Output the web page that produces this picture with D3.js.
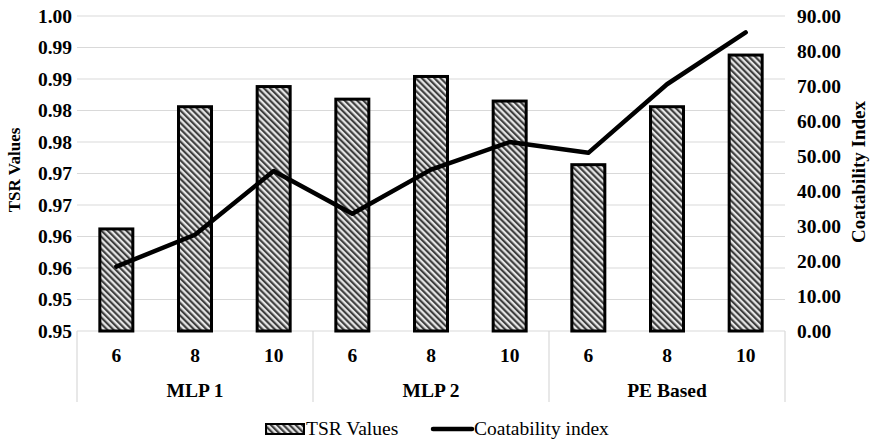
<!DOCTYPE html>
<html><head><meta charset="utf-8">
<script src="https://cdn.jsdelivr.net/npm/d3@7"></script>
<style>body{margin:0;background:#fff;} svg{display:block;} svg text{font-family:"Liberation Serif","Times New Roman",Tinos,"DejaVu Serif",serif !important;}</style>
</head><body>
<svg id="chart" width="874" height="440"></svg>
<script>
const groups = ["MLP 1", "MLP 2", "PE Based"];
const subLabels = ["6", "8", "10"];
const tsrValues = [0.9662, 0.9856, 0.9888, 0.9868, 0.9904, 0.9865, 0.9764, 0.9856, 0.9938];
const coatValues = [18.4, 27.5, 45.7, 33.5, 46.1, 54.0, 50.9, 70.5, 85.3];
const leftTicks = [0.95, 0.955, 0.96, 0.965, 0.97, 0.975, 0.98, 0.985, 0.99, 0.995, 1.0];
const rightTicks = [0, 10, 20, 30, 40, 50, 60, 70, 80, 90];
const seriesNames = ["TSR Values", "Coatability index"];

const svg = d3.select("#chart");
const L = 77, R = 785, T = 16, B = 331;
const font = "Liberation Serif, Times New Roman, DejaVu Serif, serif";

const cats = [];
groups.forEach((g, gi) => subLabels.forEach((s, si) => cats.push({g, s, key: gi + "-" + si})));

const x = d3.scaleBand().domain(cats.map(d => d.key)).range([L, R]).paddingInner(0).paddingOuter(0);
const yL = d3.scaleLinear().domain([0.95, 1.0]).range([B, T]);
const yR = d3.scaleLinear().domain([0, 90]).range([B, T]);

const defs = svg.append("defs");
const pat = defs.append("pattern").attr("id", "hatch").attr("patternUnits", "userSpaceOnUse")
  .attr("width", 4.4).attr("height", 4.4).attr("patternTransform", "rotate(-45)");
pat.append("rect").attr("width", 4.4).attr("height", 4.4).attr("fill", "#e6e6e6");
pat.append("line").attr("x1", 1.1).attr("y1", 0).attr("x2", 1.1).attr("y2", 4.4)
  .attr("stroke", "#3a3a3a").attr("stroke-width", 2.1);

// gridlines
svg.append("g").selectAll("line").data(leftTicks).join("line")
  .attr("x1", L).attr("x2", R).attr("y1", d => yL(d)).attr("y2", d => yL(d))
  .attr("stroke", "#d9d9d9").attr("stroke-width", 1.2);

// left axis
const leftAxis = d3.axisLeft(yL).tickValues(leftTicks).tickFormat(d3.format(".2f")).tickSize(0).tickPadding(5);
const gl = svg.append("g").attr("transform", `translate(${L},0)`).call(leftAxis);
gl.attr("font-family", null).attr("font-size", null);
gl.select(".domain").remove();
gl.selectAll("text").attr("font-weight", "bold").attr("font-size", "19.5px").attr("fill", "#000");

// right axis
const rightAxis = d3.axisRight(yR).tickValues(rightTicks).tickFormat(d3.format(".2f")).tickSize(0).tickPadding(12);
const gr = svg.append("g").attr("transform", `translate(${R},0)`).call(rightAxis);
gr.attr("font-family", null).attr("font-size", null);
gr.select(".domain").remove();
gr.selectAll("text").attr("font-weight", "bold").attr("font-size", "19.5px").attr("fill", "#000");

// category axis separators
const sepXs = [L].concat(groups.map((g, gi) => x(gi + "-2") + x.bandwidth()));
svg.append("g").selectAll("line").data(sepXs).join("line")
  .attr("x1", d => d).attr("x2", d => d).attr("y1", B).attr("y2", 402)
  .attr("stroke", "#d9d9d9").attr("stroke-width", 1.2);

// bars
const bw = 33;
svg.append("g").selectAll("rect").data(cats).join("rect")
  .attr("x", d => x(d.key) + x.bandwidth() / 2 - bw / 2)
  .attr("width", bw)
  .attr("y", (d, i) => yL(tsrValues[i]))
  .attr("height", (d, i) => B - yL(tsrValues[i]))
  .attr("fill", "url(#hatch)").attr("stroke", "#000").attr("stroke-width", 3);

// line
const line = d3.line().x((d, i) => x(cats[i].key) + x.bandwidth() / 2).y(d => yR(d));
svg.append("path").datum(coatValues).attr("d", line)
  .attr("fill", "none").attr("stroke", "#000").attr("stroke-width", 4.5)
  .attr("stroke-linejoin", "round").attr("stroke-linecap", "round");

// category labels
svg.append("g").selectAll("text").data(cats).join("text")
  .attr("x", d => x(d.key) + x.bandwidth() / 2).attr("y", 362)
  .attr("text-anchor", "middle").attr("font-weight", "bold").attr("font-size", "19.5px")
  .text(d => d.s);
svg.append("g").selectAll("text").data(groups).join("text")
  .attr("x", (g, gi) => x(gi + "-1") + x.bandwidth() / 2).attr("y", 397)
  .attr("text-anchor", "middle").attr("font-weight", "bold").attr("font-size", "19.5px")
  .text(d => d);

// axis titles
svg.append("text").attr("transform", "translate(20,170) rotate(-90)")
  .attr("text-anchor", "middle").attr("font-weight", "bold").attr("font-size", "17px")
  .text("TSR Values");
svg.append("text").attr("transform", "translate(858,172) rotate(-90)")
  .attr("text-anchor", "middle").attr("dy", "0.35em").attr("font-weight", "bold").attr("font-size", "19px")
  .text("Coatability Index");

// legend
const lg = svg.append("g");
lg.append("rect").attr("x", 266).attr("y", 424).attr("width", 38).attr("height", 10)
  .attr("fill", "url(#hatch)").attr("stroke", "#000").attr("stroke-width", 2);
lg.append("text").attr("x", 306).attr("y", 435).attr("font-size", "19.5px").text(seriesNames[0]);
lg.append("line").attr("x1", 433).attr("x2", 472).attr("y1", 429).attr("y2", 429)
  .attr("stroke", "#000").attr("stroke-width", 4.5).attr("stroke-linecap", "round");
lg.append("text").attr("x", 474).attr("y", 435).attr("font-size", "19.5px").text(seriesNames[1]);
</script>
</body></html>
